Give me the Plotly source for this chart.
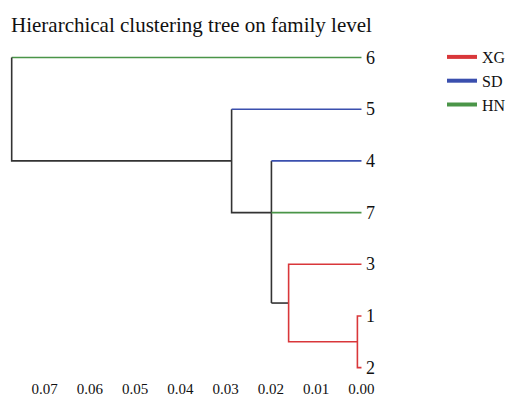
import plotly.graph_objects as go

# Leaves (top to bottom) and their groups
leaf_labels = ["6", "5", "4", "7", "3", "1", "2"]
leaf_groups = ["HN", "SD", "SD", "HN", "XG", "XG", "XG"]
group_names = ["XG", "SD", "HN"]
group_colors = {"XG": "#d9373a", "SD": "#3a4fae", "HN": "#4a9548"}
link_color = "#333333"

# Merge heights (distance)
h_12 = 0.0009      # 1 + 2
h_312 = 0.0161     # 3 + (1,2)
h_47 = 0.0199      # 4 + 7 + (3,1,2)
h_5 = 0.0287       # 5 + rest
h_root = 0.0773    # 6 + rest

x_ticks = [0.07, 0.06, 0.05, 0.04, 0.03, 0.02, 0.01, 0.00]
x_tick_text = ["0.07", "0.06", "0.05", "0.04", "0.03", "0.02", "0.01", "0.00"]

FONT = "Liberation Serif, Times New Roman, serif"

# Dendrogram segments: (x list, y list, colour)
segments = [
    ([h_root, 0], [0, 0], group_colors["HN"]),
    ([h_root, h_root, h_5], [0, 2, 2], link_color),
    ([h_5, h_5, h_47], [1, 3, 3], link_color),
    ([h_5, 0], [1, 1], group_colors["SD"]),
    ([h_47, h_47], [2, 4.75], link_color),
    ([h_47, 0], [2, 2], group_colors["SD"]),
    ([h_47, 0], [3, 3], group_colors["HN"]),
    ([h_47, h_312], [4.75, 4.75], link_color),
    ([0, h_312, h_312, h_12], [4, 4, 5.5, 5.5], group_colors["XG"]),
    ([0, h_12, h_12, 0], [5, 5, 6, 6], group_colors["XG"]),
]

fig = go.Figure()
for xs, ys, col in segments:
    fig.add_trace(go.Scatter(x=xs, y=ys, mode="lines",
                             line=dict(color=col, width=1.6),
                             showlegend=False, hoverinfo="skip"))

# Leaf labels
for i, lab in enumerate(leaf_labels):
    fig.add_annotation(x=0, y=i, xref="x", yref="y", text=lab, showarrow=False,
                       xanchor="left", yanchor="middle", xshift=3,
                       font=dict(family=FONT, size=18, color="#111111"))

# Legend entries
for g in group_names:
    fig.add_trace(go.Scatter(x=[None], y=[None], mode="lines", name=g,
                             line=dict(color=group_colors[g], width=4)))

fig.update_layout(
    width=506, height=406,
    margin=dict(l=4, r=139.5, t=41.5, b=27.6),
    paper_bgcolor="white", plot_bgcolor="white",
    font=dict(family=FONT, color="#111111"),
    title=dict(text="Hierarchical clustering tree on family level",
               font=dict(family=FONT, size=21, color="#111111"),
               xref="container", yref="container",
               x=11 / 506, xanchor="left", y=1 - 25 / 406, yanchor="middle"),
    xaxis=dict(range=[0.079, -0.001], tickvals=x_ticks, ticktext=x_tick_text,
               showgrid=False, zeroline=False, showline=False, ticks="",
               tickfont=dict(family=FONT, size=15, color="#111111")),
    yaxis=dict(range=[6.2, -0.3], visible=False, showgrid=False, zeroline=False),
    legend=dict(xref="container", yref="container", x=442 / 506, y=1 - 40 / 406,
                xanchor="left", yanchor="top", font=dict(family=FONT, size=16),
                itemwidth=30, bgcolor="rgba(0,0,0,0)"),
    showlegend=True,
)

fig.write_html("out.html")
